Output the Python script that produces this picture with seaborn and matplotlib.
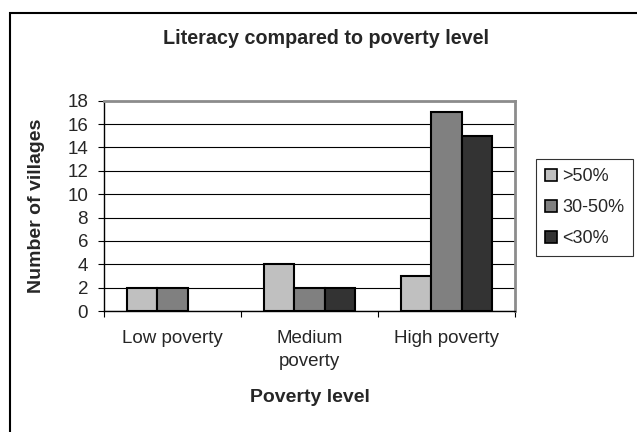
import matplotlib
matplotlib.use("Agg")
import matplotlib.pyplot as plt
import matplotlib.patches as mpatches
from matplotlib.patches import Patch
import seaborn as sns
import pandas as pd

levels = ["Low poverty", "Medium\npoverty", "High poverty"]
series = [">50%", "30-50%", "<30%"]
above50 = [2, 4, 3]
mid30_50 = [2, 2, 17]
below30 = [0, 2, 15]
colors = ["#C0C0C0", "#808080", "#333333"]
yticks = list(range(0, 19, 2))

rows = []
for name, vals in zip(series, [above50, mid30_50, below30]):
    for lvl, v in zip(levels, vals):
        rows.append({"level": lvl, "literacy": name, "count": v})
df = pd.DataFrame(rows)

sns.set_theme(style="white")
plt.rcParams["font.family"] = ["Liberation Sans", "DejaVu Sans"]

W, H = 637, 432
fig = plt.figure(figsize=(W / 100, H / 100), dpi=100)
fig.patch.set_facecolor("white")

L, R, T, B = 104, 515, 100.7, 311
ax = fig.add_axes([L / W, 1 - B / H, (R - L) / W, (B - T) / H])

sns.barplot(data=df, x="level", y="count", hue="literacy", hue_order=series,
            order=levels, palette=colors, width=0.66, edgecolor="black",
            linewidth=1.5, saturation=1, legend=False, ax=ax, zorder=3)
for p in ax.patches:
    if p.get_height() == 0:
        p.set_visible(False)

ax.set_xlim(-0.5, 2.5)
ax.set_ylim(0, 18)
ax.set_yticks(yticks)
ax.set_yticklabels([str(t) for t in yticks], fontsize=13.5)
ax.yaxis.grid(True, color="black", linewidth=0.8, zorder=0)
ax.set_axisbelow(True)
ax.tick_params(axis="y", direction="out", length=4.5, width=0.8, color="black",
               pad=7, left=True)

ax.set_xticks([0, 1, 2])
ax.set_xticklabels(levels, fontsize=13.5, va="top", linespacing=1.4)
ax.set_xticks([-0.5, 0.5, 1.5, 2.5], minor=True)
ax.tick_params(axis="x", which="major", length=0, pad=14)
ax.tick_params(axis="x", which="minor", direction="out", length=4.5, width=0.8,
               color="black", bottom=True)

for side in ["left", "bottom"]:
    ax.spines[side].set_color("black")
    ax.spines[side].set_linewidth(1.0)
for side in ["top", "right"]:
    ax.spines[side].set_color("#8c8c8c")
    ax.spines[side].set_linewidth(2.0)
    ax.spines[side].set_visible(True)

ax.set_ylabel("Number of villages", fontsize=14, fontweight="bold")
ax.yaxis.set_label_coords((45 - L) / (R - L), 0.5)
ax.set_xlabel("Poverty level", fontsize=14, fontweight="bold")
ax.xaxis.label.set_va("center")
ax.xaxis.set_label_coords(0.5, -(398 - B) / (B - T))

fig.text(326 / W, 1 - 39 / H, "Literacy compared to poverty level",
         ha="center", va="center", fontsize=14.2, fontweight="bold")

handles = [Patch(facecolor=c, edgecolor="black", linewidth=1.2) for c in colors]
leg = fig.legend(handles, series, loc="upper left",
                 bbox_to_anchor=(536 / W, 1 - 159 / H), fontsize=13,
                 frameon=True, fancybox=False, edgecolor="black",
                 handlelength=0.65, handleheight=0.65, handletextpad=0.3,
                 labelspacing=0.78, borderpad=0.5, borderaxespad=0)
leg.get_frame().set_linewidth(0.8)

frame = mpatches.Rectangle((10 / W, -0.1), 1.0, 1 - 13 / H + 0.1,
                           transform=fig.transFigure, fill=False,
                           edgecolor="black", linewidth=1.5, clip_on=False)
fig.patches.append(frame)

fig.savefig("out.png", dpi=100, facecolor="white")
